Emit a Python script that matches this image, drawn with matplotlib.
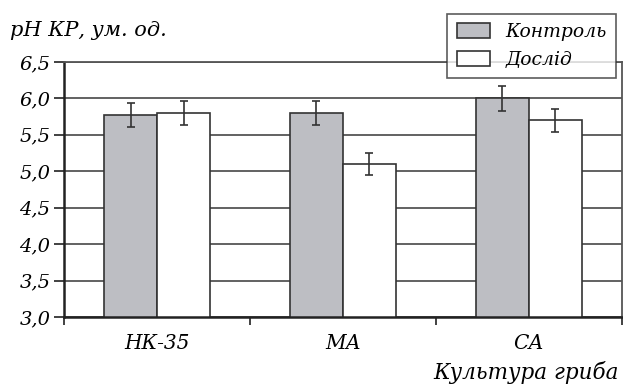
import numpy as np
import matplotlib
matplotlib.use("Agg")
import matplotlib.pyplot as plt
from matplotlib.patches import Patch

categories = ["НК-35", "МА", "СА"]
control = [5.77, 5.80, 6.00]
control_err = [0.16, 0.16, 0.17]
experiment = [5.80, 5.10, 5.70]
experiment_err = [0.17, 0.15, 0.16]
series_names = ["Контроль", "Дослід"]
yticks = [3.0, 3.5, 4.0, 4.5, 5.0, 5.5, 6.0, 6.5]
ytick_labels = ["3,0", "3,5", "4,0", "4,5", "5,0", "5,5", "6,0", "6,5"]

plt.rcParams["font.family"] = ["DejaVu Serif"]
plt.rcParams["font.style"] = "italic"

fig = plt.figure(figsize=(6.23, 3.87), dpi=100)
ax = fig.add_axes([0.103, 0.181, 0.895, 0.659])

gray = "#bdbec3"
edge = "#333333"
w = 0.285
x = np.arange(len(categories)) + 0.5

ax.set_axisbelow(True)
ax.yaxis.grid(True, color="#555555", linewidth=1.3)

ax.bar(x - w / 2, control, width=w, color=gray, edgecolor=edge, linewidth=1.2, zorder=2)
ax.bar(x + w / 2, experiment, width=w, color="white", edgecolor=edge, linewidth=1.2, zorder=2)
ax.errorbar(x - w / 2, control, yerr=control_err, fmt="none", ecolor="#333333",
            elinewidth=1.2, capsize=3, capthick=1.2, zorder=3)
ax.errorbar(x + w / 2, experiment, yerr=experiment_err, fmt="none", ecolor="#333333",
            elinewidth=1.2, capsize=3, capthick=1.2, zorder=3)

ax.set_xlim(0, 3)
ax.set_ylim(3.0, 6.5)
ax.set_yticks(yticks)
ax.set_yticklabels(ytick_labels, fontsize=14)
# group boundaries carry the tick marks, group centres carry the names
ax.set_xticks([0, 1, 2, 3])
ax.set_xticklabels([])
ax.set_xticks(x, minor=True)
ax.set_xticklabels(categories, minor=True, fontsize=14.5)
ax.tick_params(axis="x", which="minor", length=0, pad=12)
ax.tick_params(axis="x", which="major", length=6, width=1.3, color="#333333")
ax.tick_params(axis="y", length=7, width=1.3, color="#333333", pad=3)

for side in ["top", "right"]:
    ax.spines[side].set_color("#555555")
    ax.spines[side].set_linewidth(1.3)
ax.spines["left"].set_color("#222222")
ax.spines["left"].set_linewidth(1.8)
ax.spines["bottom"].set_color("#222222")
ax.spines["bottom"].set_linewidth(1.8)

handles = [Patch(facecolor=gray, edgecolor=edge, linewidth=1.2),
           Patch(facecolor="white", edgecolor=edge, linewidth=1.2)]
leg = fig.legend(handles, series_names, loc="upper right",
                 bbox_to_anchor=(0.989, 0.964), borderaxespad=0, fontsize=13.5,
                 frameon=True, fancybox=False, edgecolor="#333333",
                 handlelength=1.8, handleheight=0.85, handletextpad=0.8,
                 borderpad=0.5, labelspacing=0.5)
leg.get_frame().set_linewidth(1.2)
leg.set_zorder(5)

fig.text(0.016, 0.922, "рН КР, ум. од.", fontsize=15, ha="left", va="center")
fig.text(0.994, 0.038, "Культура гриба", fontsize=15.5, ha="right", va="center")

fig.savefig("out.png", dpi=100)
